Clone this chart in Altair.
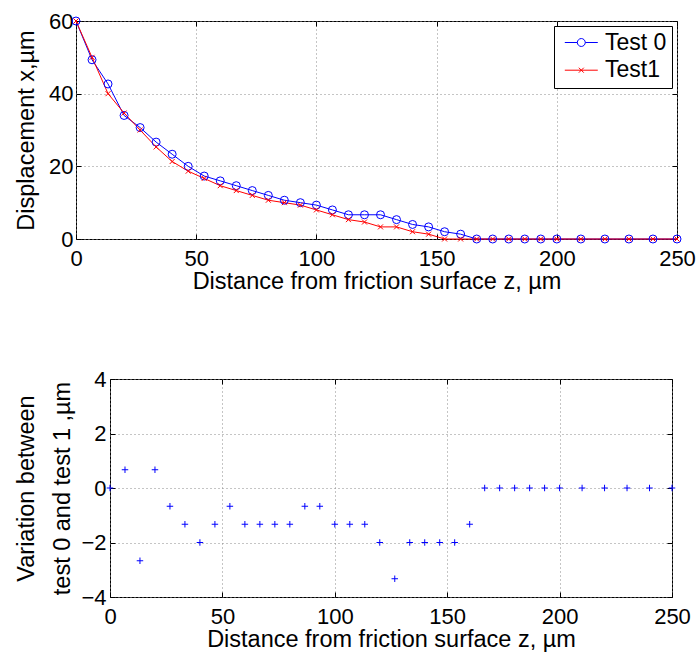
import altair as alt
import pandas as pd

# ---------------- data ----------------
z = [0, 6.67, 13.33, 20, 26.67, 33.33, 40, 46.67, 53.33, 60, 66.67, 73.33, 80,
     86.67, 93.33, 100, 106.67, 113.33, 120, 126.67, 133.33, 140, 146.67, 153.33,
     160, 166.67, 173.33, 180, 186.67, 193.33, 200, 210, 220, 230, 240, 250]
test0 = [60, 49.33, 42.67, 34, 30.67, 26.67, 23.33, 20, 17.33, 16, 14.67, 13.33, 12,
         10.67, 10, 9.33, 8, 6.67, 6.67, 6.67, 5.33, 4, 3.33, 2,
         1.33, 0, 0, 0, 0, 0, 0, 0, 0, 0, 0, 0]
test1 = [60, 50, 40, 34.67, 30, 25.33, 21.33, 18.67, 16.67, 14.67, 13.33, 12, 10.67,
         10, 9.33, 8, 6.67, 5.33, 4.67, 3.33, 3.33, 2, 1.33, 0,
         0, 0, 0, 0, 0, 0, 0, 0, 0, 0, 0, 0]
variation = [0, 0.67, -2.67, 0.67, -0.67, -1.33, -2, -1.33, -0.67, -1.33, -1.33, -1.33, -1.33,
             -0.67, -0.67, -1.33, -1.33, -1.33, -2, -3.33, -2, -2, -2, -2,
             -1.33, 0, 0, 0, 0, 0, 0, 0, 0, 0, 0, 0]

series_names = ["Test 0", "Test1"]
x_ticks = [0, 50, 100, 150, 200, 250]
top_y_ticks = [0, 20, 40, 60]
bottom_y_ticks = [-4, -2, 0, 2, 4]
x_title = "Distance from friction surface z, µm"
top_y_title = "Displacement x,µm"
bottom_y_title = ["Variation between" + "\u2003\u2003", "\u2002" + "test 0 and test 1 ,µm"]

# ---------------- styling ----------------
FONT = "Liberation Sans"
BLUE = "#0000ff"
RED = "#ff0000"
TICK = 5
SHIFT = 34  # bottom plot starts further right than the top one
GRID = dict(grid=True, gridColor="#8a8a8a", gridDash=[1, 3], gridWidth=1)
LABELS = dict(labelFont=FONT, labelFontSize=22, labelColor="black",
              labelFlush=False, labelOverlap=False)
TITLES = dict(titleFont=FONT, titleFontSize=23.5, titleFontWeight="normal",
              titleColor="black", titleLimit=600)

PATH_X = "M-1,-1L1,1M-1,1L1,-1"
PATH_PLUS = "M-1,0L1,0M0,-1L0,1"
LEG0 = ("M-0.69,0L0.83,0M1.79,0L3.31,0"
        "M1.79,0A0.48,0.48,0,1,1,0.83,0A0.48,0.48,0,1,1,1.79,0")
LEG1 = "M-0.69,0L3.31,0M1.01,-0.3L1.61,0.3M1.01,0.3L1.61,-0.3"

XSCALE = alt.Scale(domain=[0, 250], nice=False, zero=False)


def yscale(domain):
    return alt.Scale(domain=domain, nice=False, zero=False)


def main_x(title):
    return alt.X("z", type="quantitative", scale=XSCALE,
                 axis=alt.Axis(orient="bottom", values=x_ticks, title=title,
                               domain=False, ticks=True, tickSize=TICK, offset=-TICK,
                               tickColor="black", labelPadding=9.5, titlePadding=0,
                               **GRID, **LABELS, **TITLES))


def main_y(field, domain, ticks, title=None, lp=4, tp=10, labels=True):
    kw = dict(orient="left", values=ticks, domain=False, ticks=True,
              tickSize=TICK, offset=-TICK, tickColor="black", **GRID)
    if labels:
        kw.update(title=title, labelPadding=lp, titlePadding=tp, **LABELS, **TITLES)
    else:
        kw.update(labels=False, title=None)
    return alt.Y(field, type="quantitative", scale=yscale(domain), axis=alt.Axis(**kw))


def plain_x():
    return alt.X("z", type="quantitative", scale=XSCALE, axis=None)


def plain_y(field, domain):
    return alt.Y(field, type="quantitative", scale=yscale(domain), axis=None)


def inner_ticks(data, field, domain, ticks):
    return alt.Chart(data).mark_point(opacity=0).encode(
        x=alt.X("z", type="quantitative", scale=XSCALE,
                axis=alt.Axis(orient="top", values=x_ticks, labels=False, title=None,
                              domain=False, grid=False, tickSize=TICK, offset=-TICK,
                              tickColor="black")),
        y=alt.Y(field, type="quantitative", scale=yscale(domain),
                axis=alt.Axis(orient="right", values=ticks, labels=False, title=None,
                              domain=False, grid=False, tickSize=TICK, offset=-TICK,
                              tickColor="black")),
    )


# ---------------- top chart ----------------
top_df = pd.DataFrame({"z": z, "Test 0": test0, "Test1": test1})
long_df = top_df.melt("z", var_name="series", value_name="x")
TOP_DOM = [0, 60]

line0 = alt.Chart(top_df).mark_line(color=BLUE, strokeWidth=1).encode(
    x=main_x(x_title),
    y=main_y("Test 0", TOP_DOM, top_y_ticks, top_y_title, lp=3, tp=10))
line1 = alt.Chart(top_df).mark_line(color=RED, strokeWidth=1).encode(
    x=plain_x(), y=plain_y("Test1", TOP_DOM))
pts0 = alt.Chart(top_df).mark_point(shape="circle", size=64, filled=False,
                                    color=BLUE, strokeWidth=1, opacity=1).encode(
    x=plain_x(), y=plain_y("Test 0", TOP_DOM))
pts1 = alt.Chart(top_df).mark_point(shape=PATH_X, size=25, filled=False,
                                    color=RED, strokeWidth=1, opacity=1).encode(
    x=plain_x(), y=plain_y("Test1", TOP_DOM))

legend = alt.Legend(title=None, orient="top-right", offset=5, padding=5,
                    fillColor="white", strokeColor="black",
                    labelFont=FONT, labelFontSize=23,
                    labelColor="black", labelOffset=23, symbolSize=272,
                    symbolStrokeWidth=1, symbolOpacity=1, rowPadding=3.7,
                    symbolOffset=0)
leg_layer = alt.Chart(long_df).mark_point(filled=False, opacity=0).encode(
    x=plain_x(), y=plain_y("x", TOP_DOM),
    color=alt.Color("series:N", scale=alt.Scale(domain=series_names, range=[BLUE, RED]),
                    legend=legend),
    shape=alt.Shape("series:N", scale=alt.Scale(domain=series_names, range=[LEG0, LEG1]),
                    legend=legend),
)

top = alt.layer(line0, line1, pts0, pts1, leg_layer,
                inner_ticks(top_df, "Test 0", TOP_DOM, top_y_ticks)).resolve_axis(
    x="independent", y="independent").properties(width=601, height=218)

# ---------------- bottom chart ----------------
bot_df = pd.DataFrame({"z": z, "v": variation})
BOT_DOM = [-4, 4]

# y labels and title of the lower panel (placed at the panel's left edge)
bot_axis = alt.Chart(bot_df).mark_point(opacity=0).encode(
    y=alt.Y("v", type="quantitative", scale=yscale(BOT_DOM),
            axis=alt.Axis(orient="left", values=bottom_y_ticks, title=bottom_y_title,
                          domain=False, ticks=False, grid=False, offset=-SHIFT,
                          labelPadding=4, titlePadding=6.6, titleLineHeight=36,
                          **LABELS, **TITLES))
).properties(width=1, height=218, view=alt.ViewBackground(stroke="transparent"))

pts_v = alt.Chart(bot_df).mark_point(shape=PATH_PLUS, size=42, filled=False,
                                     color=BLUE, strokeWidth=1, opacity=1).encode(
    x=main_x(x_title),
    y=main_y("v", BOT_DOM, bottom_y_ticks, labels=False))

bot_plot = alt.layer(pts_v, inner_ticks(bot_df, "v", BOT_DOM, bottom_y_ticks)).resolve_axis(
    x="independent", y="independent").properties(width=562, height=218)

bottom = alt.hconcat(bot_axis, bot_plot, spacing=SHIFT - 1, bounds="flush")

chart = alt.vconcat(top, bottom, spacing=73).resolve_legend(
    color="independent", shape="independent"
).configure(
    padding={"left": 13, "top": 9, "right": 1, "bottom": 0}, font=FONT
).configure_view(stroke="black", strokeWidth=1).configure_legend(
    strokeWidth=1, cornerRadius=0)

chart.save("out.html", embed_options={"renderer": "svg", "actions": False})
